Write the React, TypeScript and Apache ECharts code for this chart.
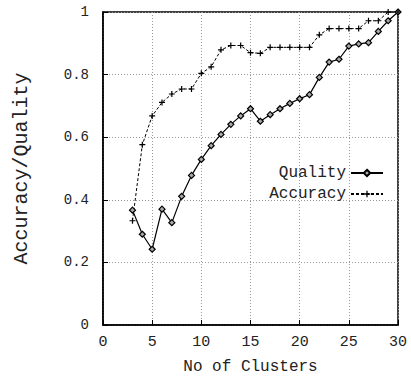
import React, { useEffect, useRef } from "react";
import * as echarts from "echarts";

const clusters = [3, 4, 5, 6, 7, 8, 9, 10, 11, 12, 13, 14, 15, 16, 17, 18, 19, 20, 21, 22, 23, 24, 25, 26, 27, 28, 29, 30];
const quality = [0.367, 0.29, 0.242, 0.37, 0.327, 0.411, 0.478, 0.529, 0.573, 0.609, 0.641, 0.668, 0.691, 0.651, 0.672, 0.691, 0.708, 0.723, 0.736, 0.791, 0.84, 0.849, 0.891, 0.898, 0.902, 0.938, 0.972, 1.0];
const accuracy = [0.333, 0.576, 0.668, 0.711, 0.738, 0.754, 0.754, 0.804, 0.825, 0.879, 0.893, 0.893, 0.87, 0.868, 0.887, 0.887, 0.887, 0.887, 0.887, 0.927, 0.947, 0.947, 0.947, 0.947, 0.972, 0.972, 1.0, 1.0];

const FONT = "'Liberation Mono', 'DejaVu Sans Mono', monospace";
const PLUS = "path://M4,0h2v4h4v2h-4v4h-2v-4h-4v-2h4z";
const TXT = "#222";

export default function App() {
  const ref = useRef<HTMLDivElement>(null);
  useEffect(() => {
    if (!ref.current) return;
    const chart = echarts.init(ref.current, null, { renderer: "svg" });
    const qData = clusters.map((c, i) => [c, quality[i]]);
    const aData = clusters.map((c, i) => [c, accuracy[i]]);
    chart.setOption({
      animation: false,
      backgroundColor: "#fff",
      grid: {
        left: 103,
        right: 13,
        top: 12,
        bottom: 58,
        show: true,
        borderColor: "#000",
        borderWidth: 1.5,
      },
      legend: {
        orient: "vertical",
        align: "right",
        right: 22,
        top: 160,
        itemWidth: 32,
        itemHeight: 8,
        itemGap: 5,
        textStyle: { fontFamily: FONT, fontSize: 16, color: TXT },
        data: ["Quality", "Accuracy"],
      },
      xAxis: {
        type: "value",
        min: 0,
        max: 30,
        interval: 5,
        name: "No of Clusters",
        nameLocation: "middle",
        nameGap: 34,
        nameTextStyle: { fontFamily: FONT, fontSize: 16, color: TXT },
        axisLine: { show: true, lineStyle: { color: "#000", width: 1.5 } },
        axisTick: { show: true, inside: true, length: 5, lineStyle: { color: "#000" } },
        axisLabel: { fontFamily: FONT, fontSize: 15, color: TXT, margin: 10 },
        splitLine: { show: true, lineStyle: { color: "#999", type: [1, 2], width: 1 } },
      },
      yAxis: {
        type: "value",
        min: 0,
        max: 1,
        interval: 0.2,
        name: "Accuracy/Quality",
        nameLocation: "middle",
        nameGap: 72,
        nameTextStyle: { fontFamily: FONT, fontSize: 20, color: TXT },
        axisLine: { show: true, lineStyle: { color: "#000", width: 1.5 } },
        axisTick: { show: true, inside: true, length: 5, lineStyle: { color: "#000" } },
        axisLabel: {
          fontFamily: FONT,
          fontSize: 14,
          color: TXT,
          margin: 14,
          formatter: (v: number) => (v === 0 ? "0" : v === 1 ? "1" : v.toFixed(1)),
        },
        splitLine: { show: true, lineStyle: { color: "#999", type: [1, 2], width: 1 } },
      },
      series: [
        {
          name: "Quality",
          type: "line",
          data: qData,
          symbol: "diamond",
          symbolSize: 6,
          showAllSymbol: true,
          lineStyle: { color: "#000", width: 1.2 },
          itemStyle: { color: "#aaa", borderColor: "#000", borderWidth: 1.2 },
        },
        {
          name: "Accuracy",
          type: "line",
          data: aData,
          symbol: PLUS,
          symbolSize: 6,
          showAllSymbol: true,
          lineStyle: { color: "#000", width: 1, type: [3, 2] },
          itemStyle: { color: "#000", borderWidth: 0 },
        },
      ],
    });
    return () => chart.dispose();
  }, []);
  return <div ref={ref} style={{ width: 411, height: 383, position: "absolute", left: 0, top: 0 }} />;
}
